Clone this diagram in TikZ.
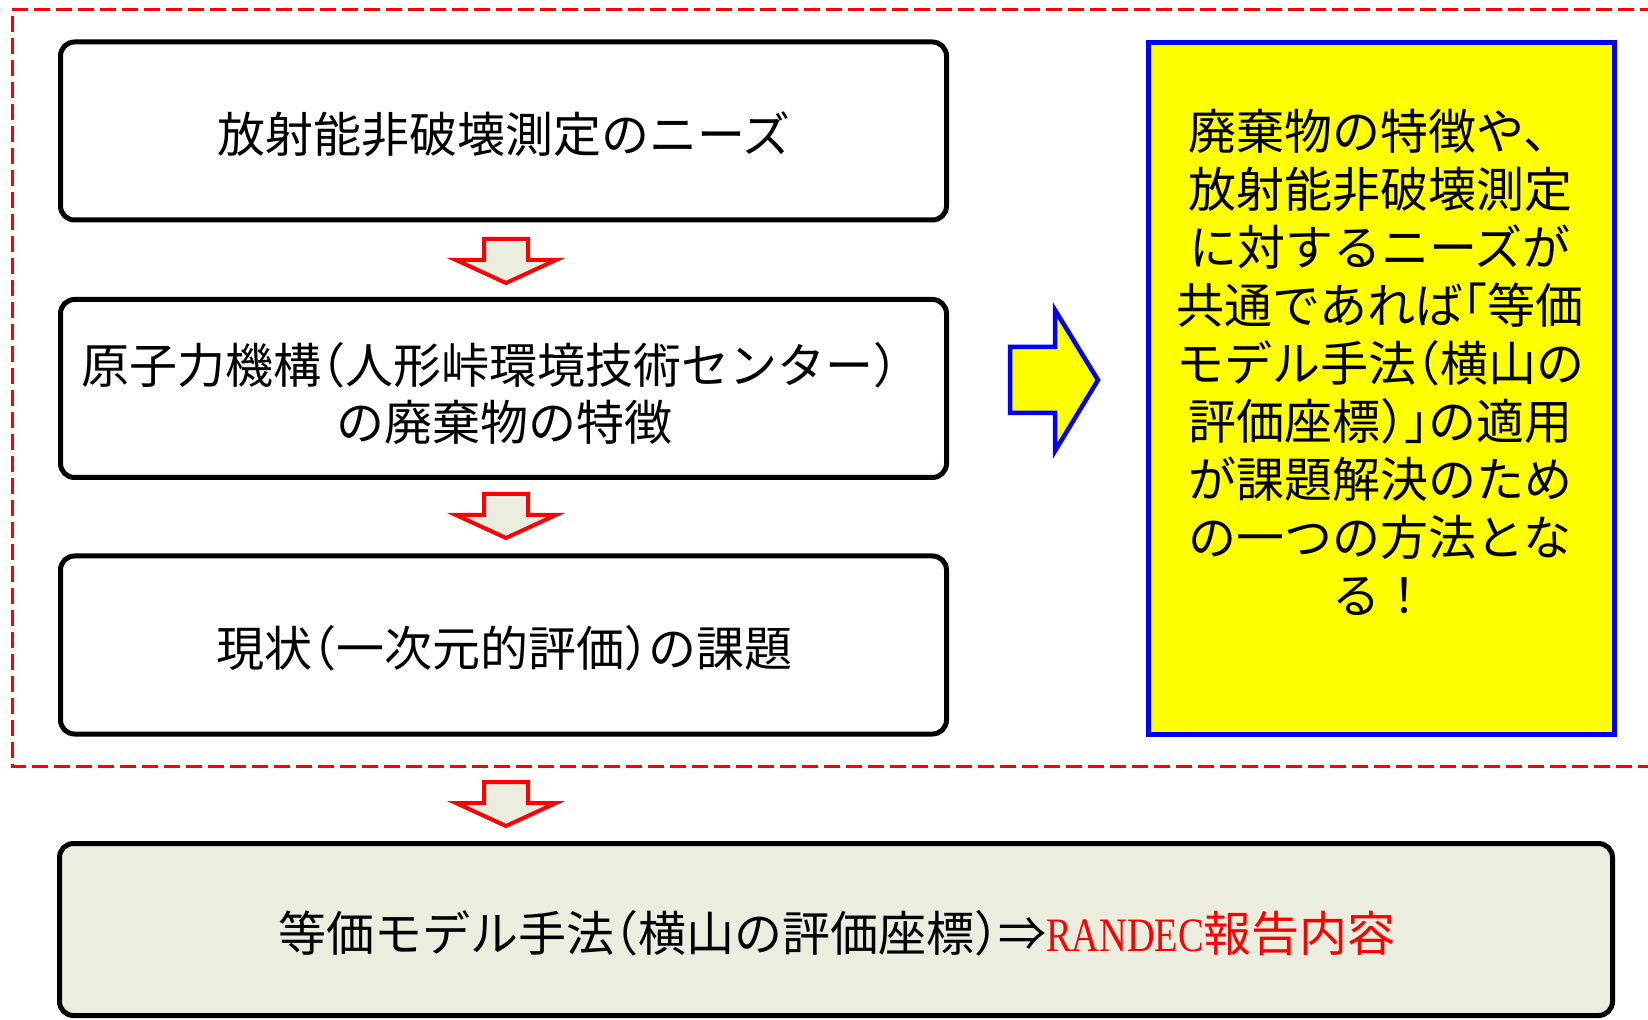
\documentclass[tikz,border=0pt]{standalone}
\usepackage{fontspec}
\newfontfamily\jp{Noto Sans CJK JP}
\newfontfamily\latser[FakeStretch=0.8]{Liberation Serif}
\definecolor{paleg}{RGB}{235,237,222}
\definecolor{ared}{RGB}{255,0,0}
\definecolor{ablue}{RGB}{0,0,255}
\definecolor{ayellow}{RGB}{255,255,0}
\newcommand{\hlp}{\makebox[0.5em][r]{（}}
\newcommand{\hrp}{\makebox[0.5em][l]{）}}
\newcommand{\hlq}{\makebox[0.5em][r]{「}}
\newcommand{\hrq}{\makebox[0.5em][l]{」}}
\tikzset{
  jtext/.style={font=\jp\fontsize{24}{28.5}\selectfont, align=center, inner sep=0pt},
  flowbox/.style={draw=black, line width=2.5pt, rounded corners=7pt, fill=white,
    minimum width=443pt, minimum height=89pt, inner sep=0pt},
  resultbox/.style={flowbox, fill=paleg, minimum width=776.5pt, minimum height=86pt},
  notebox/.style={draw=ablue, line width=2.5pt, fill=ayellow, minimum width=233pt,
    minimum height=346pt, inner sep=0pt},
  downarrow/.style={draw=ared, fill=paleg, line width=2pt, line join=miter},
  rightarrow/.style={draw=ablue, fill=ayellow, line width=2.25pt, line join=miter},
  frame/.style={draw=ared, line width=1.5pt, dash pattern=on 8pt off 3pt}
}
\begin{document}
\begin{tikzpicture}[x=0.5pt,y=-0.5pt]
\useasboundingbox (0,0) rectangle (1648,1020);
% dashed frame
\draw[frame] (1700,10) -- (12,10) -- (12,766) -- (1700,766);
% boxes
\node[flowbox] (b1) at (503.5,131) {};
\node[jtext] (t1) at (504,134.5) {放射能非破壊測定のニーズ};
\node[flowbox] (b2) at (503.5,388.5) {};
\node[jtext] (t2a) at (489,365) {原子力機構\hlp 人形峠環境技術センター\hrp};
\node[jtext] (t2b) at (504,422) {の廃棄物の特徴};
\node[flowbox] (b3) at (503.5,645) {};
\node[jtext] (t3) at (504,648.5) {現状\hlp 一次元的評価\hrp の課題};
\node[resultbox] (b4) at (836,929.5) {};
\node[jtext] (t4) at (837,933) {等価モデル手法\hlp 横山の評価座標\hrp ⇒\textcolor{ared}{{\latser RANDEC}報告内容}};
\node[notebox] (y1) at (1381.5,388.5) {};
\node[jtext, font=\jp\fontsize{24}{29}\selectfont] (yt) at (1380,362.5)
  {廃棄物の特徴や、\\放射能非破壊測定\\に対するニーズが\\共通であれば\hlq 等価\\モデル手法\hlp 横山の\\評価座標\hrp\hrq の適用\\が課題解決のため\\の一つの方法とな\\る！};
% down arrows
\coordinate (d1) at (506,239);
\coordinate (d2) at (506,494);
\coordinate (d3) at (506,782);
\foreach \d in {d1,d2,d3}{
  \draw[downarrow] (\d) ++(-22,0) -- ++(44,0) -- ++(0,21) -- ++(28,0) -- ++(-50,23)
    -- ++(-50,-23) -- ++(28,0) -- cycle;
}
% right arrow
\coordinate (r1) at (1010,347);
\draw[rightarrow] (r1) -- ++(45,0) -- ++(0,-37) -- ++(43,70) -- ++(-43,71) -- ++(0,-38)
  -- ++(-45,0) -- cycle;
\end{tikzpicture}
\end{document}
